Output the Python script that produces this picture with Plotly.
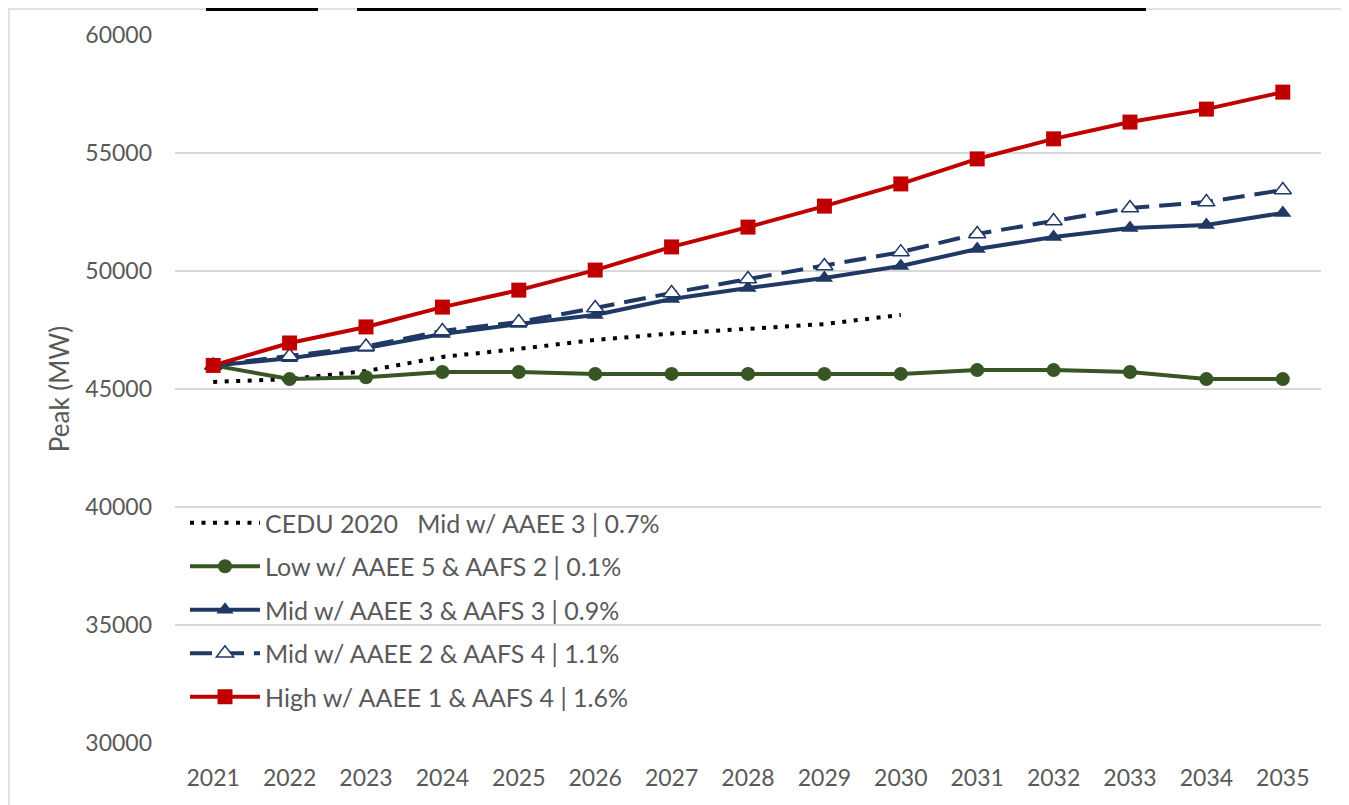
import plotly.graph_objects as go

# Forecast years
years = [2021, 2022, 2023, 2024, 2025, 2026, 2027, 2028, 2029, 2030,
         2031, 2032, 2033, 2034, 2035]

# Peak demand (MW) by scenario
cedu_2020 = [45300, 45420, 45760, 46360, 46700, 47080, 47350, 47540, 47750, 48140]
low_aaee5 = [46000, 45420, 45500, 45720, 45720, 45640, 45640, 45640, 45640, 45640,
             45800, 45800, 45720, 45420, 45420]
mid_aaee3 = [46000, 46300, 46740, 47330, 47750, 48140, 48810, 49280, 49700, 50210,
             50930, 51440, 51820, 51950, 52460]
mid_aaee2 = [46000, 46400, 46800, 47460, 47840, 48430, 49070, 49660, 50210, 50800,
             51570, 52120, 52670, 52920, 53430]
high_aaee1 = [46000, 46950, 47630, 48470, 49190, 50040, 51020, 51860, 52750, 53690,
              54750, 55600, 56310, 56860, 57580]

names = [
    "CEDU 2020\u00a0\u00a0\u00a0Mid w/ AAEE 3 | 0.7%",
    "Low w/ AAEE 5 & AAFS 2 | 0.1%",
    "Mid w/ AAEE 3 & AAFS 3 | 0.9%",
    "Mid w/ AAEE 2 & AAFS 4 | 1.1%",
    "High w/ AAEE 1 & AAFS 4 | 1.6%",
]

GREEN = "#375623"
NAVY = "#1F3864"
RED = "#C00000"
GRAY = "#595959"
FONT = "Lato, 'Open Sans', sans-serif"

fig = go.Figure()

fig.add_trace(go.Scatter(
    x=years[:len(cedu_2020)], y=cedu_2020, name=names[0], mode="lines",
    line=dict(color="black", width=4, dash="4px,7.5px"), legendgroup="a",
))
fig.add_trace(go.Scatter(
    x=years, y=low_aaee5, name=names[1], mode="lines+markers",
    line=dict(color=GREEN, width=4),
    marker=dict(symbol="circle", size=14, color=GREEN), legendgroup="b",
))
fig.add_trace(go.Scatter(
    x=years, y=mid_aaee3, name=names[2], mode="lines+markers",
    line=dict(color=NAVY, width=4),
    marker=dict(symbol="triangle-up", size=15, color=NAVY), legendgroup="c",
))
fig.add_trace(go.Scatter(
    x=years, y=mid_aaee2, name=names[3], mode="lines+markers",
    line=dict(color=NAVY, width=4, dash="22px,10px"),
    marker=dict(symbol="triangle-up", size=15, color="white",
                line=dict(color=NAVY, width=1.5)), legendgroup="d",
))
fig.add_trace(go.Scatter(
    x=years, y=high_aaee1, name=names[4], mode="lines+markers",
    line=dict(color=RED, width=4),
    marker=dict(symbol="square", size=15, color=RED), legendgroup="e",
))

# the page body adds an 8px margin, so work in page px and shift
OFF = 8
W, H = 1349 - OFF, 805 - OFF
L, T = 175 - OFF, 35 - OFF
R, B = W - (1321 - OFF), H - (743 - OFF)
pw, ph = W - L - R, H - T - B


def px_x(v):
    return (v - OFF - L) / pw


def px_y(v):
    return (H - B - (v - OFF)) / ph


shapes = [
    # chart frame (top, left)
    dict(type="line", xref="paper", yref="paper", x0=px_x(8), x1=px_x(1349),
         y0=px_y(9), y1=px_y(9), line=dict(color="#d9d9d9", width=1.5)),
    dict(type="line", xref="paper", yref="paper", x0=px_x(9), x1=px_x(9),
         y0=px_y(9), y1=px_y(805), line=dict(color="#d9d9d9", width=1.5)),
    # cut-off title underlines at the very top
    dict(type="rect", xref="paper", yref="paper", x0=px_x(206), x1=px_x(318),
         y0=px_y(11), y1=px_y(8), fillcolor="black", line=dict(width=0)),
    dict(type="rect", xref="paper", yref="paper", x0=px_x(357), x1=px_x(1146),
         y0=px_y(11), y1=px_y(8), fillcolor="black", line=dict(width=0)),
]

fig.update_layout(
    width=W, height=H,
    margin=dict(l=L, r=R, t=T, b=B),
    paper_bgcolor="white", plot_bgcolor="white",
    font=dict(family=FONT, size=23, color=GRAY),
    showlegend=True,
    legend=dict(
        x=px_x(185), y=px_y(500), xanchor="left", yanchor="top",
        bgcolor="rgba(255,255,255,0)", font=dict(size=25, color=GRAY),
        itemwidth=70, tracegroupgap=8, traceorder="grouped",
    ),
    shapes=shapes,
    xaxis=dict(
        range=[2020.5, 2035.5], tickmode="array", tickvals=years,
        ticktext=[str(y) for y in years], showgrid=False, zeroline=False,
        showline=False, ticks="", ticklabelstandoff=19,
        tickfont=dict(size=23, color=GRAY),
    ),
    yaxis=dict(
        range=[30000, 60000], dtick=5000, tickformat="d", showgrid=True,
        gridcolor="#d9d9d9", gridwidth=1.5, zeroline=False, showline=False,
        ticks="", ticklabelstandoff=22, tickfont=dict(size=23, color=GRAY),
        title=dict(text="Peak (MW)", font=dict(size=26, color=GRAY), standoff=8),
    ),
)

fig.write_html("out.html")
